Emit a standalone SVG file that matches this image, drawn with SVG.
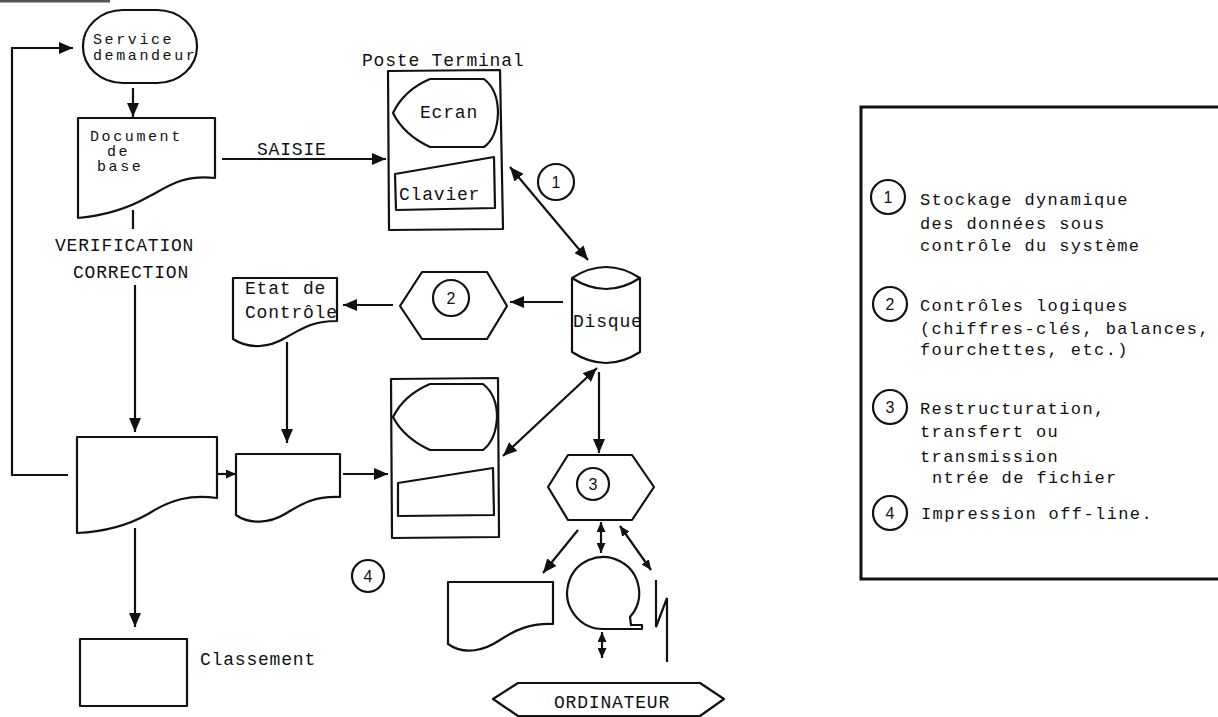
<svg xmlns="http://www.w3.org/2000/svg" width="1218" height="717" viewBox="0 0 1218 717">
<style>
.s{fill:#fff;stroke:#111;stroke-width:2.2;stroke-linejoin:round}
.c{fill:none;stroke:#111;stroke-width:2.2}
.t{font-family:"Liberation Mono",monospace;font-size:18px;letter-spacing:0.8px;fill:#111}
.ts{font-family:"Liberation Mono",monospace;font-size:15px;letter-spacing:2.6px;fill:#111}
.lg{font-family:"Liberation Mono",monospace;font-size:17px;letter-spacing:1.4px;fill:#111}
.n{font-family:"Liberation Sans",sans-serif;font-size:16px;fill:#111;text-anchor:middle}
</style>
<defs>
<marker id="ah" markerUnits="userSpaceOnUse" markerWidth="15" markerHeight="12" refX="14" refY="6" orient="auto-start-reverse"><path d="M0,0 L14,6 L0,12 Z" fill="#111"/></marker>
<marker id="as" markerUnits="userSpaceOnUse" markerWidth="11" markerHeight="9" refX="10" refY="4.5" orient="auto-start-reverse"><path d="M0,0 L10,4.5 L0,9 Z" fill="#111"/></marker>
</defs>
<rect width="1218" height="717" fill="#fff"/>
<line x1="0" y1="1" x2="110" y2="1" stroke="#555" stroke-width="3"/>

<g id="connectors">
<polyline class="c" points="68,475 12,475 12,48 73,48" marker-end="url(#ah)"/>
<line class="c" x1="133" y1="88" x2="133" y2="117" marker-end="url(#ah)"/>
<line class="c" x1="222" y1="159" x2="386" y2="159" marker-end="url(#ah)"/>
<line class="c" x1="133" y1="210" x2="133" y2="229"/>
<line class="c" x1="135" y1="285" x2="135" y2="432" marker-end="url(#ah)"/>
<line class="c" x1="217" y1="474" x2="236" y2="474" marker-end="url(#as)"/>
<line class="c" x1="135" y1="528" x2="135" y2="627" marker-end="url(#ah)"/>
<line class="c" x1="287" y1="342" x2="287" y2="443" marker-end="url(#ah)"/>
<line class="c" x1="343" y1="474" x2="388" y2="474" marker-end="url(#ah)"/>
<line class="c" x1="510" y1="167" x2="588" y2="260" marker-start="url(#ah)" marker-end="url(#ah)"/>
<line class="c" x1="563" y1="302" x2="510" y2="302" marker-end="url(#ah)"/>
<line class="c" x1="393" y1="305" x2="343" y2="305" marker-end="url(#ah)"/>
<line class="c" x1="597" y1="368" x2="503" y2="456" marker-start="url(#ah)" marker-end="url(#ah)"/>
<line class="c" x1="599" y1="372" x2="599" y2="453" marker-end="url(#ah)"/>
<line class="c" x1="578" y1="530" x2="543" y2="573" marker-end="url(#ah)"/>
<line class="c" x1="601" y1="522" x2="601" y2="553" marker-start="url(#as)" marker-end="url(#as)"/>
<line class="c" x1="620" y1="526" x2="651" y2="570" marker-start="url(#as)" marker-end="url(#as)"/>
<line class="c" x1="602" y1="632" x2="602" y2="658" marker-start="url(#as)" marker-end="url(#as)"/>
</g>

<g id="service-demandeur">
<rect class="s" x="83" y="10" width="114" height="73" rx="40" ry="36"/>
<text class="ts" x="93" y="44">Service</text>
<text class="ts" x="93" y="60">demandeur</text>
</g>

<g id="document-de-base">
<path class="s" d="M78,118 H215 V178 C182,174 166,188 148,197 C125,210 100,216 78,218 Z"/>
<text class="ts" x="90" y="141">Document</text>
<text class="ts" x="107" y="156">de</text>
<text class="ts" x="97" y="171">base</text>
</g>

<g id="label-saisie"><text class="t" x="257" y="155">SAISIE</text></g>
<g id="label-verification">
<text class="t" x="55" y="251">VERIFICATION</text>
<text class="t" x="73" y="278">CORRECTION</text>
</g>

<g id="poste-terminal">
<text class="t" x="362" y="66">Poste Terminal</text>
<path class="s" d="M388,71 L500,70 L503,229 L389,230 Z"/>
<path class="s" d="M430,79 H484 Q498,90 498,113 Q497,138 484,147 H430 Q404,135 393,113 Q404,90 430,79 Z"/>
<text class="t" x="420" y="118">Ecran</text>
<path class="s" d="M395,174 L494,157 L495,208 L396,210 Z"/>
<text class="t" x="399" y="200">Clavier</text>
</g>

<g id="marker-1">
<circle class="s" cx="556" cy="182" r="18"/>
<text class="n" x="556" y="188">1</text>
</g>

<g id="disque">
<path class="s" d="M572,278 Q606,256 640,278 V352 Q606,374 572,352 Z"/>
<path class="c" d="M572,278 Q606,300 640,278"/>
<text class="t" x="573" y="327">Disque</text>
</g>

<g id="controle-2">
<path class="s" d="M400,306 L422,272 H487 L507,306 L487,339 H422 Z"/>
<circle class="s" cx="451" cy="298" r="18"/>
<text class="n" x="451" y="304">2</text>
</g>

<g id="etat-de-controle">
<path class="s" d="M233,278 H337 V321 C310,321 300,330 285,338 C270,347 250,350 233,339 Z"/>
<text class="t" x="245" y="294">Etat de</text>
<text class="t" x="245" y="318">Contrôle</text>
</g>

<g id="document-corrige">
<path class="s" d="M77,437 H217 V498 C190,494 170,500 148,514 C125,527 100,532 77,533 Z"/>
</g>

<g id="document-intermediaire">
<path class="s" d="M236,454 H340 V497 C312,496 300,505 285,514 C270,523 250,525 236,515 Z"/>
</g>

<g id="poste-terminal-2">
<path class="s" d="M391,379 L498,378 L499,537 L392,538 Z"/>
<path class="s" d="M430,384 H483 Q497,395 497,417 Q496,440 483,450 H430 Q404,438 393,417 Q404,395 430,384 Z"/>
<path class="s" d="M398,483 L493,468 L494,515 L398,516 Z"/>
</g>

<g id="classement">
<rect class="s" x="80" y="639" width="107" height="67"/>
<text class="t" x="200" y="665">Classement</text>
</g>

<g id="marker-4">
<circle class="s" cx="368" cy="576" r="16"/>
<text class="n" x="368" y="582">4</text>
</g>

<g id="restructuration-3">
<path class="s" d="M548,487 L568,455 H632 L654,487 L632,520 H568 Z"/>
<circle class="s" cx="593" cy="484" r="16"/>
<text class="n" x="593" y="490">3</text>
</g>

<g id="impression">
<path class="s" d="M448,582 H553 V624 C530,623 515,630 500,640 C485,650 465,656 448,644 Z"/>
</g>

<g id="bande-magnetique">
<path class="s" d="M630,617 A36,36 0 1 0 603,629 H642 V625 H631 Z"/>
</g>

<g id="transmission">
<path class="c" d="M656,580 V627 L667,598 V662"/>
</g>

<g id="ordinateur">
<path class="s" d="M493,699 L518,683 H700 L724,699 L700,716 H518 Z"/>
<text class="t" x="554" y="708">ORDINATEUR</text>
</g>

<g id="legende">
<path d="M1225,107 H861 V579 H1225" fill="none" stroke="#111" stroke-width="3"/>
<circle class="s" cx="888" cy="197" r="17"/>
<text class="n" x="888" y="203">1</text>
<text class="lg" x="920" y="205">Stockage dynamique</text>
<text class="lg" x="920" y="229">des données sous</text>
<text class="lg" x="920" y="251">contrôle du système</text>
<circle class="s" cx="890" cy="304" r="17"/>
<text class="n" x="890" y="310">2</text>
<text class="lg" x="920" y="311">Contrôles logiques</text>
<text class="lg" x="920" y="334">(chiffres-clés, balances,</text>
<text class="lg" x="920" y="355">fourchettes, etc.)</text>
<circle class="s" cx="890" cy="407" r="17"/>
<text class="n" x="890" y="413">3</text>
<text class="lg" x="920" y="414">Restructuration,</text>
<text class="lg" x="920" y="437">transfert ou</text>
<text class="lg" x="920" y="462">transmission</text>
<text class="lg" x="932" y="483">ntrée de fichier</text>
<circle class="s" cx="890" cy="513" r="17"/>
<text class="n" x="890" y="519">4</text>
<text class="lg" x="921" y="519">Impression off-line.</text>
</g>
</svg>
